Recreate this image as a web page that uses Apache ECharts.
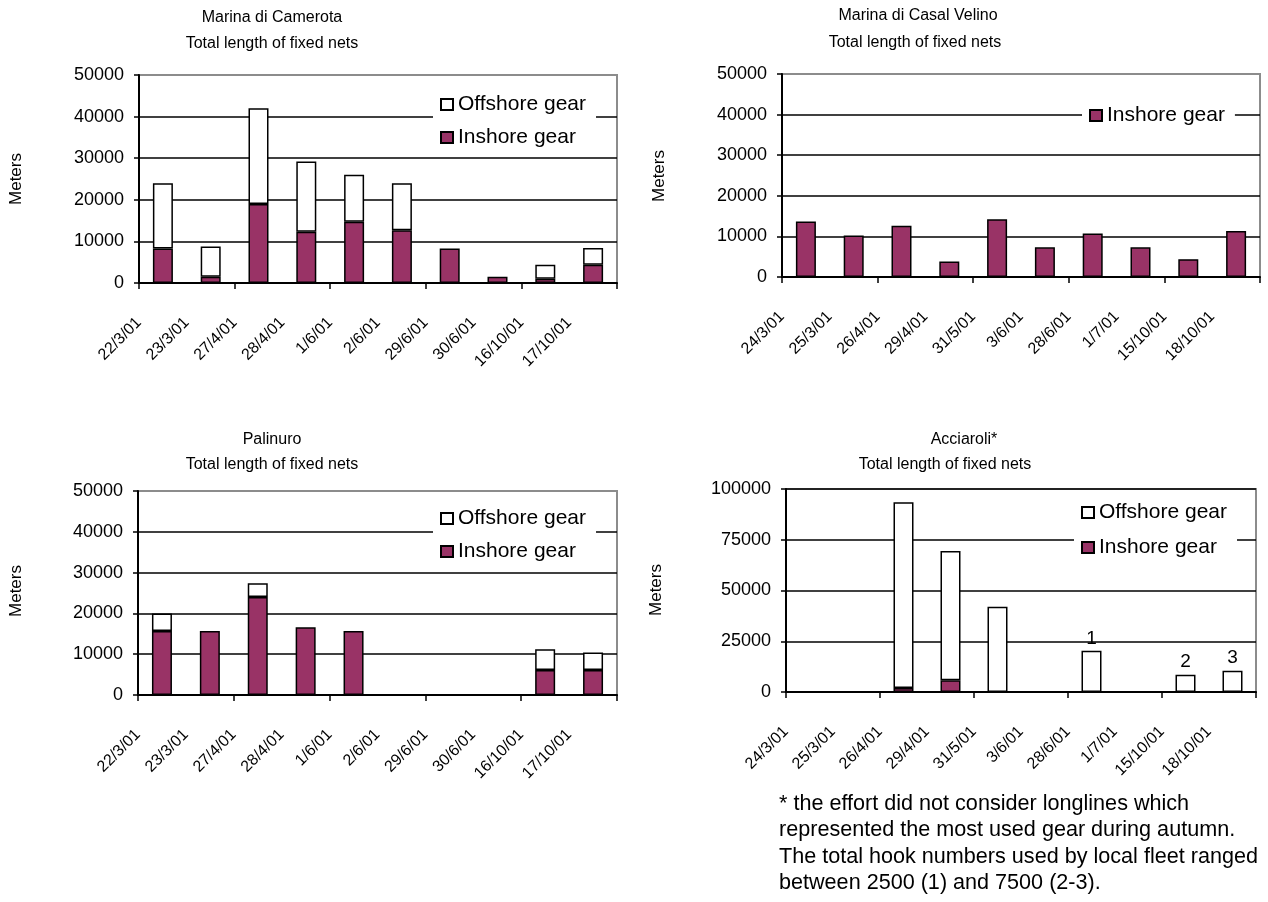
<!DOCTYPE html>
<html><head><meta charset="utf-8">
<script src="https://cdn.jsdelivr.net/npm/echarts@6/dist/echarts.min.js"></script>
<style>html,body{margin:0;padding:0;background:#fff}#main{width:1268px;height:902px}</style>
</head><body><div id="main"></div>
<script>
// ---- data ----
const datesLeft = ['22/3/01','23/3/01','27/4/01','28/4/01','1/6/01','2/6/01','29/6/01','30/6/01','16/10/01','17/10/01'];
const datesRight = ['24/3/01','25/3/01','26/4/01','29/4/01','31/5/01','3/6/01','28/6/01','1/7/01','15/10/01','18/10/01'];

const cameroraInshore  = [8300, 1500, 19000, 12300, 14700, 12700, 8300, 1500, 1000, 4400];
const cameroraOffshore = [15700, 7300, 23000, 16900, 11300, 11300, 0, 0, 3400, 4000];

const velinoInshore = [13700, 10200, 12600, 3800, 14200, 7300, 10700, 7300, 4400, 11300];

const palinuroInshore  = [15700, 15700, 24000, 16600, 15700, 0, 0, 0, 6100, 6100];
const palinuroOffshore = [4300, 0, 3400, 0, 0, 0, 0, 0, 5100, 4300];

const acciaroliInshore  = [0, 0, 2000, 5800, 0, 0, 0, 0, 0, 0];
const acciaroliOffshore = [0, 0, 91500, 63700, 42000, 0, 20300, 0, 8500, 10500];
const acciaroliNotes    = ['', '', '', '', '', '', '1', '', '2', '3'];

const yTicksSmall = [0, 50000, 10000];   // min, max, interval
const yTicksLarge = [0, 100000, 25000];

const titles = [
  ['Marina di Camerota', 'Total length of fixed nets'],
  ['Marina di Casal Velino', 'Total length of fixed nets'],
  ['Palinuro', 'Total length of fixed nets'],
  ['Acciaroli*', 'Total length of fixed nets']
];
const footnote = [
  '* the effort did not consider longlines which',
  'represented the most used gear during autumn.',
  'The total hook numbers used by local fleet ranged',
  'between 2500 (1) and 7500 (2-3).'
];
const OFF = 'Offshore gear', IN = 'Inshore gear';

// ---- styling / layout ----
const FONT = '"Liberation Sans", Arial, sans-serif';
const PURPLE = '#993366';
const grids = [
  {left: 139, top: 75, width: 478, height: 208},
  {left: 782, top: 74, width: 478, height: 203},
  {left: 138, top: 491, width: 479, height: 204},
  {left: 786, top: 489, width: 470, height: 203}
];
const clean = a => a.map(v => (v === 0 ? '-' : v));

const xAxis = [], yAxis = [];
function addAxes(gi, cats, yt) {
  xAxis.push({
    type: 'category', gridIndex: gi, data: cats, position: 'bottom', boundaryGap: true,
    axisLine: {show: true, onZero: false, lineStyle: {color: '#000', width: 2}},
    axisTick: {show: true, length: 6, lineStyle: {color: '#000', width: 1.5}},
    axisLabel: {show: false}, splitLine: {show: false}
  });
  xAxis.push({
    type: 'category', gridIndex: gi, data: cats.concat(['']), position: 'bottom', boundaryGap: false,
    axisLine: {show: false, onZero: false}, axisTick: {show: false}, splitLine: {show: false},
    axisLabel: {show: true, interval: 0, rotate: 45, margin: 37, fontSize: 16, fontFamily: FONT, color: '#000'}
  });
  yAxis.push({
    type: 'value', gridIndex: gi, min: yt[0], max: yt[1], interval: yt[2],
    axisLine: {show: true, lineStyle: {color: '#000', width: 2}},
    axisTick: {show: true, length: 5, lineStyle: {color: '#000', width: 1.5}},
    axisLabel: {margin: 15, fontSize: 18, color: '#000', fontFamily: FONT, formatter: v => String(v)},
    splitLine: {show: true, lineStyle: {color: ['#000', '#000', '#000', '#000', '#000', '#8c8c8c'], width: 1.5}}
  });
}
addAxes(0, datesLeft, yTicksSmall);
addAxes(1, datesRight, yTicksSmall);
addAxes(2, datesLeft, yTicksSmall);
addAxes(3, datesRight, yTicksLarge);

const inStyle = {color: PURPLE, borderColor: '#000', borderWidth: 1.5};
const offStyle = {color: '#fff', borderColor: '#000', borderWidth: 1.5};
function bar(name, gi, data, style, extra) {
  return Object.assign({
    name: name, type: 'bar', stack: 's' + gi, xAxisIndex: gi * 2, yAxisIndex: gi,
    barWidth: 20, data: clean(data), itemStyle: style, animation: false,
    emphasis: {disabled: true}
  }, extra || {});
}
const series = [
  bar(IN, 0, cameroraInshore, inStyle),
  bar(OFF, 0, cameroraOffshore, offStyle),
  bar(IN, 1, velinoInshore, inStyle),
  bar(IN, 2, palinuroInshore, inStyle),
  bar(OFF, 2, palinuroOffshore, offStyle),
  bar(IN, 3, acciaroliInshore, inStyle),
  bar(OFF, 3, acciaroliOffshore, offStyle, {
    label: {show: true, position: 'top', distance: 3, fontSize: 19, color: '#000', fontFamily: FONT,
      formatter: p => acciaroliNotes[p.dataIndex]}
  })
];

function legend(left, top, items, gap) {
  return {
    orient: 'vertical', left: left, top: top, data: items, icon: 'rect',
    itemWidth: 12, itemHeight: 11, itemGap: gap, padding: [6, 10, 6, 7],
    backgroundColor: '#fff', selectedMode: false,
    textStyle: {fontSize: 21, lineHeight: 21, color: '#000', fontFamily: FONT}
  };
}
const legends = [
  legend(433, 88, [OFF, IN], 12),
  legend(1082, 99, [IN], 12),
  legend(433, 502, [OFF, IN], 12),
  legend(1074, 496, [OFF, IN], 14)
];

const graphic = [];
// [center x line1, y line1, center x line2, y line2]
const titlePos = [[272, 18, 272, 44], [918, 16, 915, 43], [272, 440, 272, 465], [964, 440, 945, 465]];
titles.forEach((t, i) => {
  const p = titlePos[i];
  [0, 1].forEach(k => graphic.push({
    type: 'text', x: p[2 * k], y: p[2 * k + 1],
    style: {text: t[k], align: 'center', verticalAlign: 'middle', fontSize: 16, fontFamily: FONT, fill: '#000'}
  }));
});
const meterPos = [[16, 179], [659, 176], [16, 591], [656, 590]];
meterPos.forEach(p => graphic.push({
  type: 'text', x: p[0], y: p[1], rotation: Math.PI / 2,
  style: {text: 'Meters', align: 'center', verticalAlign: 'middle', fontSize: 17, fontFamily: FONT, fill: '#000'}
}));
footnote.forEach((line, i) => graphic.push({
  type: 'text', x: 779, y: 804 + i * 26.5,
  style: {text: line, align: 'left', verticalAlign: 'middle', fontSize: 21.6, fontFamily: FONT, fill: '#000'}
}));

const chart = echarts.init(document.getElementById('main'), null, {renderer: 'canvas'});
chart.setOption({
  backgroundColor: '#fff',
  animation: false,
  grid: grids.map(g => Object.assign({show: true, borderColor: '#8c8c8c', borderWidth: 2, backgroundColor: 'transparent'}, g)),
  xAxis: xAxis, yAxis: yAxis, legend: legends, series: series, graphic: graphic
});
</script>
</body></html>
